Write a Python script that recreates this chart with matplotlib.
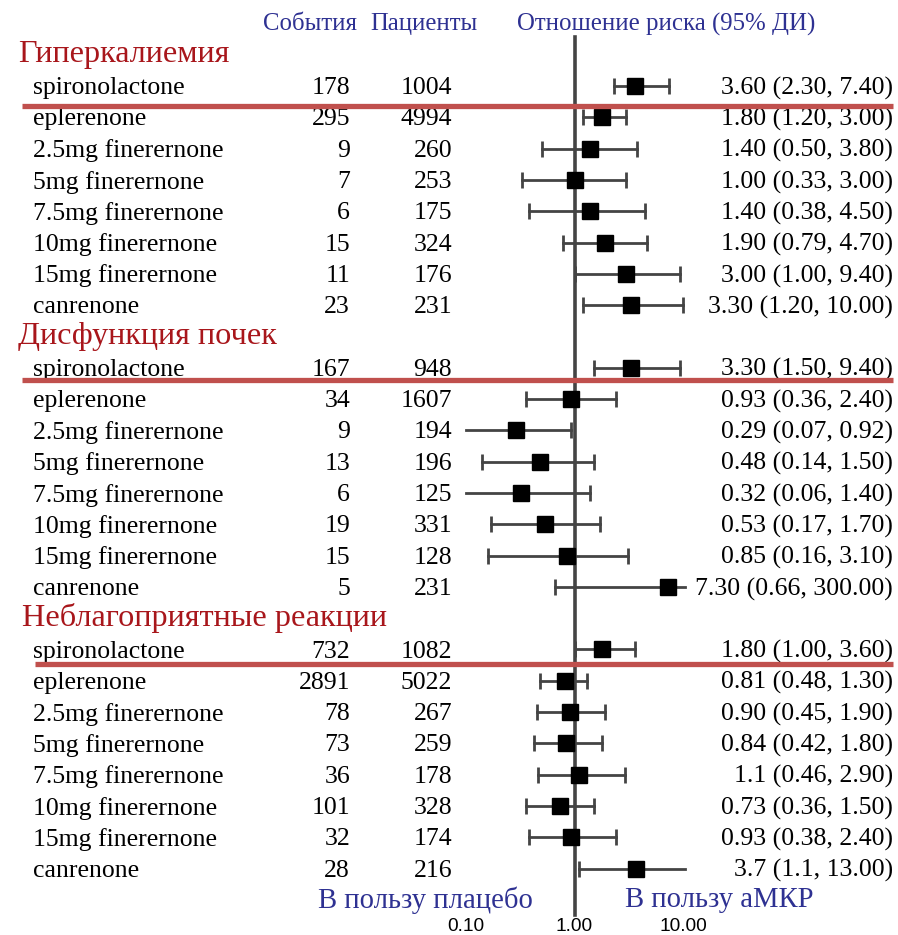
import numpy as np
import matplotlib
matplotlib.use("Agg")
import matplotlib.pyplot as plt
from matplotlib.transforms import blended_transform_factory

# --- data -------------------------------------------------------------
groups = ["Гиперкалиемия", "Дисфункция почек", "Неблагоприятные реакции"]
drugs = ["spironolactone", "eplerenone", "2.5mg finerernone", "5mg finerernone",
         "7.5mg finerernone", "10mg finerernone", "15mg finerernone", "canrenone"]

events = [
    [178, 295, 9, 7, 6, 15, 11, 23],
    [167, 34, 9, 13, 6, 19, 15, 5],
    [732, 2891, 78, 73, 36, 101, 32, 28],
]
patients = [
    [1004, 4994, 260, 253, 175, 324, 176, 231],
    [948, 1607, 194, 196, 125, 331, 128, 231],
    [1082, 5022, 267, 259, 178, 328, 174, 216],
]
hr = [
    [3.60, 1.80, 1.40, 1.00, 1.40, 1.90, 3.00, 3.30],
    [3.30, 0.93, 0.29, 0.48, 0.32, 0.53, 0.85, 7.30],
    [1.80, 0.81, 0.90, 0.84, 1.10, 0.73, 0.93, 3.70],
]
ci_low = [
    [2.30, 1.20, 0.50, 0.33, 0.38, 0.79, 1.00, 1.20],
    [1.50, 0.36, 0.07, 0.14, 0.06, 0.17, 0.16, 0.66],
    [1.00, 0.48, 0.45, 0.42, 0.46, 0.36, 0.38, 1.10],
]
ci_high = [
    [7.40, 3.00, 3.80, 3.00, 4.50, 4.70, 9.40, 10.00],
    [9.40, 2.40, 0.92, 1.50, 1.40, 1.70, 3.10, 300.00],
    [3.60, 1.30, 1.90, 1.80, 2.90, 1.50, 2.40, 13.00],
]
hr_text = [
    ["3.60 (2.30, 7.40)", "1.80 (1.20, 3.00)", "1.40 (0.50, 3.80)", "1.00 (0.33, 3.00)",
     "1.40 (0.38, 4.50)", "1.90 (0.79, 4.70)", "3.00 (1.00, 9.40)", "3.30 (1.20, 10.00)"],
    ["3.30 (1.50, 9.40)", "0.93 (0.36, 2.40)", "0.29 (0.07, 0.92)", "0.48 (0.14, 1.50)",
     "0.32 (0.06, 1.40)", "0.53 (0.17, 1.70)", "0.85 (0.16, 3.10)", "7.30 (0.66, 300.00)"],
    ["1.80 (1.00, 3.60)", "0.81 (0.48, 1.30)", "0.90 (0.45, 1.90)", "0.84 (0.42, 1.80)",
     "1.1 (0.46, 2.90)", "0.73 (0.36, 1.50)", "0.93 (0.38, 2.40)", "3.7 (1.1, 13.00)"],
]
xticks = [0.1, 1.0, 10.0]

# --- styling ----------------------------------------------------------
SERIF = "Liberation Serif"
BLUE = "#2e3192"
DARKRED = "#a8161b"
LINERED = "#c0504d"
GREY = "#444444"

W, H = 898, 935
ROW0, ROWH = 54.7, 31.3          # pixel y of row 0, row height
x_lo_clip, x_hi_clip = 0.1, 10.4
TXT_DY = 0.07                    # nudge text down a little

fig = plt.figure(figsize=(W / 100, H / 100), dpi=100)
ax = fig.add_axes([466 / W, 0, 217 / W, 1])
ax.set_xscale("log")
ax.set_xlim(0.1, 10)
ax.set_ylim((H - ROW0) / ROWH, -ROW0 / ROWH)
ax.axis("off")

tr = blended_transform_factory(fig.transFigure, ax.transData)


def fx(px):
    return px / W


# column headers
ax.text(fx(263), -0.98, "События", transform=tr, color=BLUE, fontsize=17.8,
        family=SERIF, va="center")
ax.text(fx(370), -0.98, "Пациенты", transform=tr, color=BLUE, fontsize=17.8,
        family=SERIF, va="center")
ax.text(fx(517), -0.98, "Отношение риска (95% ДИ)", transform=tr, color=BLUE,
        fontsize=17.9, family=SERIF, va="center")

# vertical reference line at 1
ax.plot([1, 1], [-0.57, 27.5], color=GREY, lw=2.6, clip_on=False, zorder=2)

header_x = [18, 18, 22]
redline_off = [0.65, 0.38, 0.47]
redline_x0 = [22, 22, 35]

for g, name in enumerate(groups):
    base = 9 * g
    ax.text(fx(header_x[g]), base, name, transform=tr, color=DARKRED,
            fontsize=23.2, family=SERIF, va="center")
    for i, drug in enumerate(drugs):
        y = base + 1 + i
        yt = y + TXT_DY
        ax.text(fx(33), yt, drug, transform=tr, fontsize=18.5, family=SERIF, va="center")
        ax.text(fx(350), yt, str(events[g][i]), transform=tr, fontsize=18.5,
                family=SERIF, va="center", ha="right")
        ax.text(fx(452), yt, str(patients[g][i]), transform=tr, fontsize=18.5,
                family=SERIF, va="center", ha="right")
        ax.text(fx(893), yt, hr_text[g][i], transform=tr, fontsize=18.5,
                family=SERIF, va="center", ha="right")

        lo, hi = ci_low[g][i], ci_high[g][i]
        lo_c, hi_c = max(lo, x_lo_clip), min(hi, x_hi_clip)
        ax.plot([lo_c, hi_c], [y, y], color=GREY, lw=2.0, clip_on=False, zorder=3)
        if lo >= x_lo_clip:
            ax.plot([lo], [y], marker="|", ms=11, mew=2.0, color=GREY, clip_on=False, zorder=3)
        if hi <= x_hi_clip:
            ax.plot([hi], [y], marker="|", ms=11, mew=2.0, color=GREY, clip_on=False, zorder=3)
        ax.plot([hr[g][i]], [y], marker="s", ms=11.5, color="black", clip_on=False, zorder=4)

    # red separator under spironolactone
    yl = base + 1 + redline_off[g]
    ax.plot([fx(redline_x0[g]), fx(893)], [yl, yl], transform=tr, color=LINERED,
            lw=3.8, solid_capstyle="butt", clip_on=False, zorder=5)

# favours labels
ax.text(fx(318), 27.0, "В пользу плацебо", transform=tr, color=BLUE,
        fontsize=20.6, family=SERIF, va="center")
ax.text(fx(625), 27.0, "В пользу аМКР", transform=tr, color=BLUE,
        fontsize=20.6, family=SERIF, va="center")

# tick labels
for t in xticks:
    ax.text(t, 27.85, f"{t:.2f}", fontsize=13.8, family="Liberation Sans",
            ha="center", va="center", clip_on=False)

fig.savefig("out.png", dpi=100)
